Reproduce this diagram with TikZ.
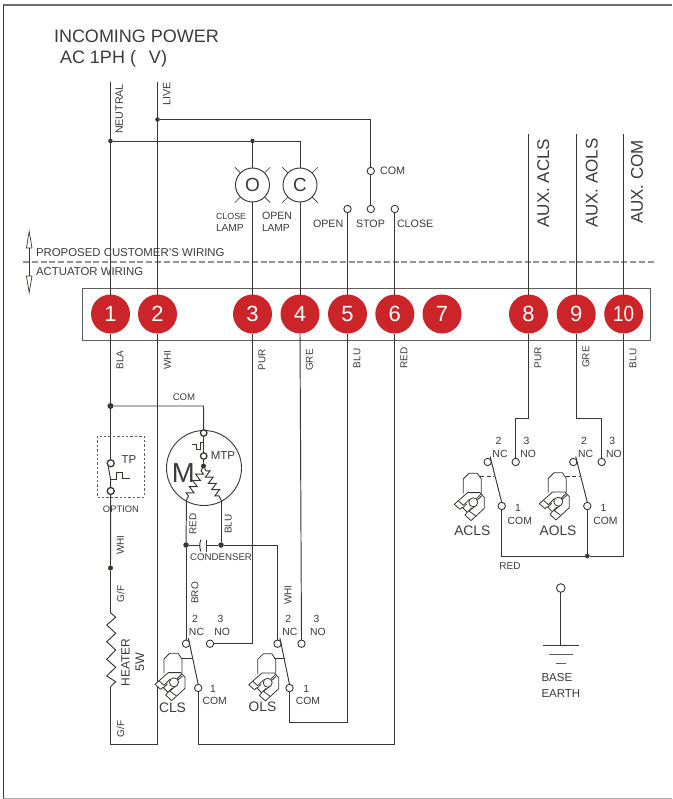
\documentclass[tikz,border=0pt]{standalone}
\usepackage{fontspec}
\usepackage{graphicx}
\setmainfont{Liberation Sans}
\usetikzlibrary{decorations.pathmorphing,calc}
\definecolor{ink}{HTML}{3A3533}
\definecolor{txt}{HTML}{3C3A3A}
\definecolor{termred}{HTML}{CC2529}
\newcommand\fs[1]{\fontsize{#1}{#1}\selectfont}
\tikzset{
  wire/.style={draw=ink,line width=0.95pt,line join=miter},
  term/.style={circle,draw=ink,fill=white,line width=0.9pt,minimum size=7.4pt,inner sep=0pt,outer sep=0pt},
  termb/.style={term,minimum size=7pt,line width=1.3pt},
  jd/.style={circle,fill=ink,minimum size=4.6pt,inner sep=0pt,outer sep=0pt},
  jl/.style={circle,fill=ink,minimum size=6pt,inner sep=0pt,outer sep=0pt},
  tnum/.style={circle,fill=termred,text=white,minimum size=39pt,inner sep=0pt,outer sep=0pt,font=\fs{22}},
  lamp/.style={circle,draw=ink,fill=white,line width=0.95pt,minimum size=34pt,inner sep=0pt,outer sep=0pt,text=txt,font=\fs{19}},
  lab/.style={inner sep=0pt,outer sep=0pt,text=txt,align=center},
  vlab/.style={lab,rotate=90},
  cam/.style={draw=ink,line width=0.8pt,line join=round}
}
\def\lblup{0}\def\comdn{0}
% #1 prefix, #2 nc x, #3 no x, #4 com x, #5 contact y, #6 com y, #7 NC label shift, #8 NO label shift, #9 COM label shift
\newcommand\limsw[9]{%
  \node[term] (#1nc) at (#2,#5) {};
  \node[term] (#1no) at (#3,#5) {};
  \node[term] (#1com) at (#4,#6) {};
  \coordinate (#1top) at (#2+2.4,#5-5.5);
  \draw[wire] (#1top) -- (#1com.north);
  \node[lab,font=\fs{10.4}] (#1l2) at (#2+9+#7,#5-24.4+\lblup) {2};
  \node[lab,font=\fs{10.4}] (#1lnc) at (#2+10.5+#7,#5-11.4+\lblup) {NC};
  \node[lab,font=\fs{10.4}] (#1l3) at (#3+10.6+#8,#5-24.4+\lblup) {3};
  \node[lab,font=\fs{10.4}] (#1lno) at (#3+12.2+#8,#5-11.4+\lblup) {NO};
  \node[lab,font=\fs{10.4}] (#1l1) at (#4+14.7+#9,#6+0.5+\comdn) {1};
  \node[lab,font=\fs{10.4}] (#1lcom) at (#4+16.5+#9,#6+13+\comdn) {COM};
}
% cam symbol centred on roller
\newcommand\camsym[3]{%
  \begin{scope}[shift={(#2,#3)}]
    \draw[cam] (-10,-9) -- (-10,-23.3) -- (-4.3,-29) -- (4,-29) -- (8,-23.3) -- (8,-9);
    \draw[cam,fill=white] (-19,2) -- (-5.7,-9.7) -- (6.7,-9.7) -- (11,-5) -- (11,6) -- (-2.3,18.3) -- (-8.3,12.7) -- (-6,10) -- (-11,5) -- (-13.3,7) -- cycle;
    \draw[cam] (-15,-1.5) -- (-10,3) -- (-4,-3);
    \draw[cam] (-4.3,8.7) -- (2.3,13.5) (-4.3,8.7) -- (3,3);
    \draw[cam] (-6.5,1.5) -- (-10.5,5.5) (-1.5,5.5) -- (-6,10);
    \draw[cam] (3,-3.5) -- (7.5,-8) (3.7,-2) -- (8.5,-6.5);
    \node[circle,draw=ink,fill=white,line width=0.8pt,minimum size=9pt,inner sep=0pt] (#1) at (0,0) {};
  \end{scope}
}
\begin{document}
\begin{tikzpicture}[x=1pt,y=-1pt]
\useasboundingbox (0,0) rectangle (672,799);
% frame
\coordinate (fTR) at (672,5); \coordinate (fTL) at (3,5); \coordinate (fBL) at (3,798); \coordinate (fBR) at (672,798);
\draw[draw=gray!85!black,line width=1.1pt] (fTR) -- (fTL);
\draw[draw=ink,line width=0.9pt] (fTL) -- (fBL);
\draw[draw=gray!70,line width=1pt] (fBL) -- (fBR);
% titles
\node[lab,anchor=west,font=\fs{18}] (title1) at (54,36) {INCOMING POWER};
\node[lab,anchor=west,font=\fs{18}] (title2) at (60,58.8) {AC 1PH (\hspace{13pt}V)};
% terminal strip
\node[draw=ink!80,line width=1pt,minimum width=568pt,minimum height=52pt,inner sep=0pt,outer sep=0pt] (strip) at (366,314) {};
\node[tnum] (t1) at (110.5,314) {1};
\node[tnum] (t2) at (157.5,314) {2};
\node[tnum] (t3) at (252.5,314) {3};
\node[tnum] (t4) at (300,314) {4};
\node[tnum] (t5) at (347.5,314) {5};
\node[tnum] (t6) at (394.8,314) {6};
\node[tnum] (t7) at (442,314) {7};
\node[tnum] (t8) at (528.5,314) {8};
\node[tnum] (t9) at (576.2,314) {9};
\node[tnum] (t10) at (623.7,314) {\scalebox{.86}[1]{10}};
% dashed separator
\coordinate (dsL) at (23,262); \coordinate (dsR) at (655,262);
\draw[draw=gray!85,line width=1pt,dash pattern=on 6pt off 2.8pt] (dsL) -- (dsR);
\coordinate (arU) at (29.2,231.5); \coordinate (arD) at (29.2,292.5);
\draw[draw=ink,line width=0.7pt] (arU) -- (32,248) -- (26.4,248) -- cycle;
\draw[draw=ink,line width=0.7pt] (arD) -- (32,276) -- (26.4,276) -- cycle;
\draw[draw=ink,line width=0.7pt] (29.2,248) -- (29.2,276);
\node[lab,anchor=west,font=\fs{11.4}] (lPROP) at (36,253) {PROPOSED CUSTOMER'S WIRING};
\node[lab,anchor=west,font=\fs{11.4}] (lACT) at (36,272) {ACTUATOR WIRING};
% incoming lines
\coordinate (nTop) at (110.5,82);
\coordinate (lTop) at (157.5,82);
\node[jd] (jN) at (110.5,141) {};
\node[jd] (jL) at (157.5,119.5) {};
\node[jd] (jO) at (252.5,141) {};
\node[lamp] (lampO) at (252.5,185) {O};
\node[lamp] (lampC) at (300,185) {C};
\foreach \lp in {lampO,lampC}{
  \foreach \a in {45,135,225,315}{
    \draw[wire,line width=0.7pt] (\lp.\a) -- ($(\lp.center)+(\a:25pt)$);
  }
}
\draw[wire] (nTop) -- (jN);
\draw[wire] (lTop) -- (t2.north);
\draw[wire] (jN) -- (t1.north);
\draw[wire] (jN) -- (jO) -- (300,141) -- (lampC.north);
\draw[wire] (jO) -- (lampO.north);
\draw[wire] (lampO.south) -- (t3.north);
\draw[wire] (lampC.south) -- (t4.north);
\node[term] (sCom) at (370.8,171) {};
\node[term] (sStop) at (370.8,209) {};
\node[term] (sOpen) at (347.5,209) {};
\node[term] (sClose) at (394.8,209) {};
\draw[wire] (jL) -- (370.8,119.5) -- (sCom.north);
\draw[wire] (sCom.south) -- (sStop.north);
\draw[wire] (sOpen.south) -- (t5.north);
\draw[wire] (sClose.south) -- (t6.north);
\coordinate (a8) at (528.5,134); \coordinate (a9) at (576.2,134); \coordinate (a10) at (623.7,134);
\draw[wire] (a8) -- (t8.north);
\draw[wire] (a9) -- (t9.north);
\draw[wire] (a10) -- (t10.north);
% upper labels
\node[vlab,anchor=west,font=\fs{10.7}] (lNEU) at (119.3,134) {NEUTRAL};
\node[vlab,anchor=west,font=\fs{10.7}] (lLIVE) at (166.7,105.7) {LIVE};
\node[lab,anchor=west,font=\fs{10.8}] (lCOMt) at (380,170.7) {COM};
\node[lab,anchor=west,font=\fs{10.7}] (lOPEN) at (313,224) {OPEN};
\node[lab,anchor=west,font=\fs{10.7}] (lSTOP) at (356,224) {STOP};
\node[lab,anchor=west,font=\fs{10.7}] (lCLOSE) at (397,224) {CLOSE};
\node[lab,anchor=west,font=\fs{8.9}] (lCL1) at (216,216.7) {CLOSE};
\node[lab,anchor=west,font=\fs{10.2}] (lCL2) at (216,227.5) {LAMP};
\node[lab,anchor=west,font=\fs{10.6}] (lOL1) at (262,216) {OPEN};
\node[lab,anchor=west,font=\fs{10.2}] (lOL2) at (262,227.5) {LAMP};
\node[vlab,anchor=west,font=\fs{17}] (lAUX1) at (543.3,227.5) {AUX. ACLS};
\node[vlab,anchor=west,font=\fs{17}] (lAUX2) at (591.7,228) {AUX. AOLS};
\node[vlab,anchor=west,font=\fs{17}] (lAUX3) at (637,224) {AUX. COM};
% colour labels under strip
\node[vlab,font=\fs{10}] (lBLA) at (120,360) {BLA};
\node[vlab,font=\fs{10}] (lWHI) at (167.5,360) {WHI};
\node[vlab,font=\fs{10}] (lPUR1) at (262,360) {PUR};
\node[vlab,font=\fs{10}] (lGRE1) at (309.5,360) {GRE};
\node[vlab,font=\fs{10}] (lBLU1) at (357,358.5) {BLU};
\node[vlab,font=\fs{10}] (lRED1) at (404,358) {RED};
\node[vlab,font=\fs{10}] (lPUR2) at (538,358) {PUR};
\node[vlab,font=\fs{10}] (lGRE2) at (586,357) {GRE};
\node[vlab,font=\fs{10}] (lBLU2) at (633,358.5) {BLU};
% left wire with TP and heater
\node[jl] (jCom) at (110.5,406) {};
\node[termb] (tpU) at (110.7,463.3) {};
\node[termb] (tpL) at (110.7,491) {};
\node[jd,minimum size=5pt] (jH) at (110.5,568) {};
\draw[wire] (t1.south) -- (jCom);
\draw[wire] (jCom) -- (110.5,460);
\draw[wire] (108.3,466.5) -- (110.5,479) -- (tpL.north);
\draw[wire] (110.5,479) -- (116,479) -- (116,472) -- (122.7,472) -- (122.7,478) -- (130,478);
\draw[wire] (tpL.south) -- (jH);
\coordinate (htT) at (110.5,612.7);
\coordinate (htB) at (110.5,686.7);
\draw[wire] (jH) -- (htT) -- (115.7,617.3) -- (106.7,625) -- (115.7,633.3) -- (106.7,641.7) -- (115.7,650) -- (106.7,659.3) -- (115.7,667.3) -- (106.7,676) -- (115.7,681.7) -- (htB);
\draw[wire] (htB) -- (110.5,744) -- (157.5,744) -- (t2.south);
\node[draw=ink!80,dash pattern=on 2.4pt off 2pt,line width=0.8pt,minimum width=46.5pt,minimum height=61pt,inner sep=0pt] (tpBox) at (120.8,466.5) {};
\node[lab,font=\fs{11.5}] (lTP) at (129,460) {TP};
\node[lab,font=\fs{9.4}] (lOPT) at (121,509) {OPTION};
\node[vlab,font=\fs{10}] (lWHIb) at (120.5,545) {WHI};
\node[vlab,font=\fs{10}] (lGF1) at (120.5,594) {G/F};
\node[vlab,font=\fs{10}] (lGF2) at (120.5,729) {G/F};
\node[vlab,font=\fs{12}] (lHEAT) at (125.5,662.7) {HEATER};
\node[vlab,font=\fs{12.5}] (l5W) at (140,662) {5W};
% motor
\node[circle,draw=ink,line width=0.9pt,minimum size=75pt,inner sep=0pt,outer sep=0pt] (motor) at (204,468) {};
\node[termb,minimum size=6.5pt] (mU) at (203.7,433) {};
\node[termb,minimum size=6.5pt] (mL) at (203.7,456) {};
\node[jd,minimum size=5pt] (mA) at (203.5,466) {};
\draw[wire] (jCom) -- (203.5,406) -- (mU.north);
\draw[wire] (mU.south) -- (mL.north);
\draw[wire] (mL.south) -- (mA);
\draw[wire] (191.7,444.3) -- (196,444.3) -- (196,449.3) -- (200,449.3) -- (200,442.7) -- (204,442.7);
\node[lab,font=\fs{27.5}] (lM) at (183.3,473) {M};
\node[lab,font=\fs{11.5}] (lMTP) at (223,455.7) {MTP};
\coordinate (wL) at (186.5,500);
\coordinate (wR) at (221,500);
\draw[wire,decorate,decoration={zigzag,amplitude=3.6pt,segment length=7pt,pre length=3pt,post length=3pt}] (mA) -- (wL);
\draw[wire,decorate,decoration={zigzag,amplitude=3.6pt,segment length=7pt,pre length=3pt,post length=3pt}] (mA) -- (wR);
% condenser
\node[jl,minimum size=5.5pt] (jR) at (186,545) {};
\node[jl,minimum size=5.5pt] (jB) at (221,545) {};
\coordinate (cap1) at (199.8,545);
\coordinate (cap2) at (206,545);
\draw[wire] (wL) -- (jR);
\draw[wire] (wR) -- (jB);
\draw[wire] (jR) -- (cap1);
\draw[wire] (201,539.5) .. controls (199.3,543) and (199.3,548) .. (201,551.5);
\draw[wire] (206,539.5) -- (206,551.5);
\draw[wire] (cap2) -- (jB);
\node[vlab,font=\fs{10}] (lREDm) at (193,524) {RED};
\node[vlab,font=\fs{10}] (lBLUm) at (228.3,524) {BLU};
\node[lab,font=\fs{9.7}] (lCOND) at (221,557.3) {CONDENSER};
\node[lab,font=\fs{9.6}] (lCOMm) at (184,397) {COM};
% limit switches
\limsw{c}{186}{210}{198.2}{643.7}{688}{0}{0}{0}
\limsw{o}{277.5}{301.5}{289.5}{643.7}{688}{1.8}{4.3}{2}
\def\lblup{3}\def\comdn{1.7}
\limsw{a}{487.7}{515.7}{501.7}{462}{506}{1.8}{0.3}{1.6}
\limsw{b}{573.3}{601.7}{587.3}{462}{506}{1.8}{0}{1.6}
\camsym{cCam}{174}{682.3}
\camsym{oCam}{267.7}{682.7}
\camsym{aCam}{473.3}{502.3}
\camsym{bCam}{558.3}{501.7}
\node[lab,font=\fs{13.8}] (lCLS) at (172.5,707.7) {CLS};
\node[lab,font=\fs{13.8}] (lOLS) at (262.5,707) {OLS};
\node[lab,font=\fs{13.8}] (lACLS) at (472.3,531) {ACLS};
\node[lab,font=\fs{13.8}] (lAOLS) at (558,531) {AOLS};
\draw[wire] (181.5,658) -- (191.5,658);
\draw[wire] (274,658) -- (283.5,658);
\draw[wire,dash pattern=on 4pt off 2.5pt] (480,476.5) -- (493.5,476.5);
\draw[wire,dash pattern=on 4pt off 2.5pt] (565.5,476.5) -- (579.5,476.5);
% switch wiring
\draw[wire] (jR) -- (cnc.north);
\draw[wire] (jB) -- (277.5,545) -- (onc.north);
\draw[wire] (t3.south) -- (252.5,643.7) -- (cno.east);
\draw[wire] (t4.south) -- (ono.north);
\draw[wire] (t5.south) -- (347.5,722) -- (289.5,722) -- (ocom.south);
\draw[wire] (t6.south) -- (394.8,744) -- (198.2,744) -- (ccom.south);
\node[vlab,font=\fs{10}] (lBRO) at (195,593) {BRO};
\node[vlab,font=\fs{10}] (lWHIo) at (288,595) {WHI};
% aux wiring
\node[jd] (jA) at (587.3,556) {};
\draw[wire] (t8.south) -- (528.5,418.3) -- (515.7,418.3) -- (ano.north);
\draw[wire] (t9.south) -- (576.2,418.3) -- (601.7,418.3) -- (bno.north);
\draw[wire] (t10.south) -- (623.7,556) -- (jA);
\draw[wire] (jA) -- (501.7,556) -- (acom.south);
\draw[wire] (jA) -- (bcom.south);
\node[lab,font=\fs{10}] (lREDa) at (510,566) {RED};
% earth
\node[term,minimum size=8.6pt] (eT) at (560.8,588) {};
\coordinate (eB) at (560.8,645.3);
\draw[wire] (eT.south) -- (eB);
\draw[wire] (543,645.3) -- (578.5,645.3);
\draw[wire,draw=ink!80] (549,654) -- (572.5,654);
\draw[wire,draw=ink!80] (555.5,663) -- (566,663);
\node[lab,anchor=west,font=\fs{11.5}] (lBASE) at (541.5,677.5) {BASE};
\node[lab,anchor=west,font=\fs{11.5}] (lEARTH) at (541.5,693.5) {EARTH};
\end{tikzpicture}
\end{document}
